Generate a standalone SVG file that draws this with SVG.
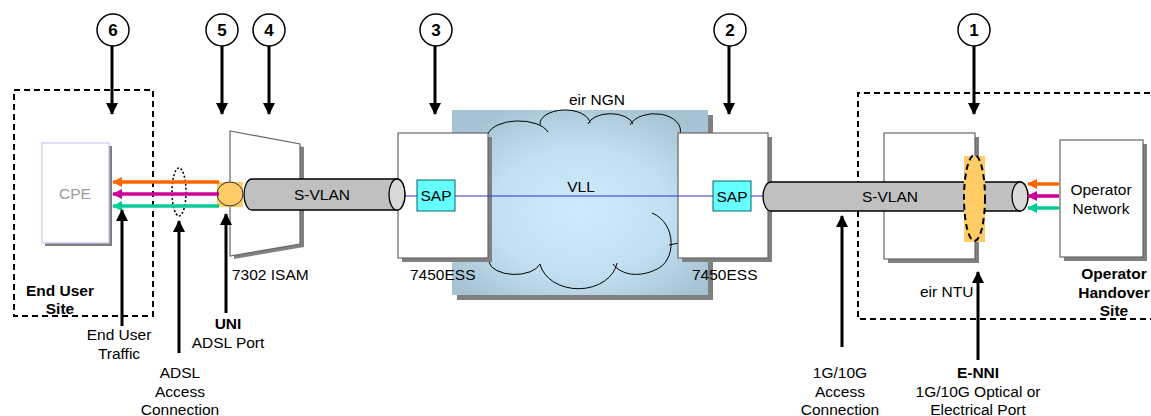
<svg xmlns="http://www.w3.org/2000/svg" width="1151" height="416" viewBox="0 0 1151 416">
<defs>
<marker id="ah" viewBox="0 0 12 12" refX="11" refY="6" markerWidth="12" markerHeight="12" markerUnits="userSpaceOnUse" orient="auto"><path d="M0,0 L12,6 L0,12 z" fill="#000"/></marker>
<marker id="ahO" viewBox="0 0 10 10" refX="9" refY="5" markerWidth="10" markerHeight="10" markerUnits="userSpaceOnUse" orient="auto"><path d="M0,0 L10,5 L0,10 z" fill="#FF6600"/></marker>
<marker id="ahM" viewBox="0 0 10 10" refX="9" refY="5" markerWidth="10" markerHeight="10" markerUnits="userSpaceOnUse" orient="auto"><path d="M0,0 L10,5 L0,10 z" fill="#CC0099"/></marker>
<marker id="ahT" viewBox="0 0 10 10" refX="9" refY="5" markerWidth="10" markerHeight="10" markerUnits="userSpaceOnUse" orient="auto"><path d="M0,0 L10,5 L0,10 z" fill="#00CC99"/></marker>
<radialGradient id="cg" cx="0.5" cy="0.55" r="0.62">
<stop offset="0" stop-color="#CDEBFD"/><stop offset="0.55" stop-color="#C2E0F2"/><stop offset="1" stop-color="#A6C3D3"/>
</radialGradient>
</defs>
<style>
text{font-family:"Liberation Sans",Arial,sans-serif;font-size:15.5px;fill:#000}
.b{font-weight:bold}
.m{text-anchor:middle}
.n{font-size:17px}
.box{fill:#fff;stroke:#666;stroke-width:1.2}
.sh{fill:#808080}
.dash{fill:none;stroke:#000;stroke-width:2;stroke-dasharray:6,4}
.big{stroke:#000;stroke-width:3;fill:none;marker-end:url(#ah)}
.pipe{fill:#C0C0C0;stroke:#000;stroke-width:1.3}
.pend{fill:#D9D9D9;stroke:#000;stroke-width:1.3}
.sap{fill:#66FFFF;stroke:#006666;stroke-width:1}
.num{fill:#fff;stroke:#000;stroke-width:1.5}
.cl{fill:none;stroke:#000;stroke-width:1}
.vll{stroke:#3333CC;stroke-width:1;fill:none}
</style>
<rect width="1151" height="416" fill="#fff"/>

<g id="end-user-site">
<rect x="14" y="90" width="139" height="226" class="dash"/>
<text x="60" y="296" class="b m">End User</text>
<text x="60" y="314" class="b m">Site</text>
</g>

<g id="operator-handover-site">
<path d="M1160,93 L858,93 L858,319 L1160,319" class="dash"/>
<text x="1114" y="279" class="b m">Operator</text>
<text x="1114" y="298" class="b m">Handover</text>
<text x="1114" y="316" class="b m">Site</text>
</g>

<g id="cpe">
<rect x="45" y="146" width="67" height="100" class="sh"/>
<rect x="42" y="143" width="67" height="100" fill="#fff" stroke="#C8C8F0" stroke-width="1.2"/>
<text x="75" y="199" class="m" style="fill:#999">CPE</text>
</g>

<g id="ngn-cloud">
<rect x="457" y="115" width="256" height="185" class="sh"/>
<rect x="452" y="110" width="256" height="185" fill="url(#cg)"/>
<path d="M488,134 A31 16 0 0 1 548,132" class="cl"/>
<path d="M540,125 A25 14 0 0 1 590,123" class="cl"/>
<path d="M588,124 A23 13 0 0 1 633,124" class="cl"/>
<path d="M630,125 A26 17 0 0 1 680,134" class="cl"/>
<path d="M489,262 A26 14 0 0 0 540,264" class="cl"/>
<path d="M540,264 A39 30 0 0 0 617,263" class="cl"/>
<path d="M652,213 C677,223 677,262 655,270 C640,277 622,276 613,264" class="cl"/>
<path d="M669,245 L679,243" class="cl"/>
<text x="597" y="105" class="m">eir NGN</text>
<text x="581" y="192" class="m">VLL</text>
</g>

<g id="isam">
<polygon points="234,134 304,147 304,247 234,259" class="sh"/>
<polygon points="230,131 300,144 300,244 230,256" class="box"/>
<text x="232" y="280">7302 ISAM</text>
</g>

<g id="ess-left">
<rect x="402" y="137" width="90" height="125" class="sh"/>
<rect x="398" y="133" width="90" height="125" class="box"/>
<text x="410" y="280">7450ESS</text>
</g>

<g id="ess-right">
<rect x="682" y="137" width="90" height="125" class="sh"/>
<rect x="678" y="133" width="90" height="125" class="box"/>
<text x="692" y="280">7450ESS</text>
</g>

<g id="ntu">
<rect x="888" y="137" width="91" height="126" class="sh"/>
<rect x="884" y="133" width="91" height="126" class="box"/>
<text x="920" y="297">eir NTU</text>
</g>

<g id="operator-network">
<rect x="1064" y="144" width="83" height="117" class="sh"/>
<rect x="1060" y="140" width="83" height="117" class="box"/>
<text x="1101" y="195" class="m">Operator</text>
<text x="1101" y="214" class="m">Network</text>
</g>

<g id="connectors">
<line x1="397" y1="196" x2="417" y2="196" class="vll"/>
<line x1="455" y1="196" x2="713" y2="196" class="vll"/>
<line x1="751" y1="196" x2="765" y2="196" class="vll"/>

<path d="M252,179 L397,179 A8 15.5 0 0 1 397,210 L252,210 A8 15.5 0 0 1 252,179 z" class="pipe"/>
<ellipse cx="397" cy="194.5" rx="8" ry="15.5" class="pend"/>
<text x="322" y="200" class="m">S-VLAN</text>

<path d="M771,182 L1020,182 A8 14.5 0 0 1 1020,211 L771,211 A8 14.5 0 0 1 771,182 z" class="pipe"/>
<ellipse cx="1020" cy="196.5" rx="8" ry="14.5" class="pend"/>
<text x="890" y="202" class="m">S-VLAN</text>

<rect x="217" y="182" width="26" height="25" fill="#FFCC66"/>
<ellipse cx="230" cy="194" rx="13" ry="12" fill="#FFCC66" stroke="#333" stroke-width="1"/>

<rect x="964" y="156" width="21" height="86" fill="#FFCC66"/>
<ellipse cx="974.5" cy="198" rx="10.5" ry="43" class="dash"/>

<ellipse cx="179" cy="192" rx="7" ry="24" fill="none" stroke="#000" stroke-width="1.5" stroke-dasharray="2,2"/>

<line x1="219" y1="182" x2="113" y2="182" stroke="#FF6600" stroke-width="3.5" marker-end="url(#ahO)"/>
<line x1="219" y1="194" x2="113" y2="194" stroke="#CC0099" stroke-width="3.5" marker-end="url(#ahM)"/>
<line x1="219" y1="206" x2="113" y2="206" stroke="#00CC99" stroke-width="3.5" marker-end="url(#ahT)"/>

<line x1="1059" y1="184" x2="1028" y2="184" stroke="#FF6600" stroke-width="3.5" marker-end="url(#ahO)"/>
<line x1="1059" y1="196" x2="1028" y2="196" stroke="#CC0099" stroke-width="3.5" marker-end="url(#ahM)"/>
<line x1="1059" y1="208" x2="1028" y2="208" stroke="#00CC99" stroke-width="3.5" marker-end="url(#ahT)"/>

<line x1="112" y1="45" x2="112" y2="114" class="big"/>
<line x1="222" y1="45" x2="222" y2="114" class="big"/>
<line x1="269" y1="45" x2="269" y2="114" class="big"/>
<line x1="435" y1="45" x2="435" y2="114" class="big"/>
<line x1="729" y1="45" x2="729" y2="114" class="big"/>
<line x1="974" y1="45" x2="974" y2="114" class="big"/>

<line x1="122" y1="326" x2="122" y2="210" class="big"/>
<line x1="179" y1="353" x2="179" y2="221" class="big"/>
<line x1="226" y1="313" x2="226" y2="214" class="big"/>
<line x1="842" y1="347" x2="842" y2="216" class="big"/>
<line x1="978" y1="360" x2="978" y2="272" class="big"/>
</g>

<g id="sap-left">
<rect x="417" y="180" width="38" height="31" class="sap"/>
<text x="436" y="201" class="m">SAP</text>
</g>
<g id="sap-right">
<rect x="713" y="181" width="38" height="30" class="sap"/>
<text x="732" y="202" class="m">SAP</text>
</g>

<g id="marker-6"><circle cx="113" cy="30" r="16" class="num"/><text x="113" y="36" class="b m n">6</text></g>
<g id="marker-5"><circle cx="222" cy="30" r="16" class="num"/><text x="222" y="36" class="b m n">5</text></g>
<g id="marker-4"><circle cx="269" cy="30" r="16" class="num"/><text x="269" y="36" class="b m n">4</text></g>
<g id="marker-3"><circle cx="436" cy="30" r="16" class="num"/><text x="436" y="36" class="b m n">3</text></g>
<g id="marker-2"><circle cx="730" cy="30" r="16" class="num"/><text x="730" y="36" class="b m n">2</text></g>
<g id="marker-1"><circle cx="974" cy="30" r="16" class="num"/><text x="974" y="36" class="b m n">1</text></g>

<g id="labels">
<text x="119" y="340" class="m">End User</text>
<text x="119" y="359" class="m">Traffic</text>
<text x="180" y="378" class="m">ADSL</text>
<text x="180" y="397" class="m">Access</text>
<text x="180" y="415" class="m">Connection</text>
<text x="228" y="329" class="b m">UNI</text>
<text x="228" y="348" class="m">ADSL Port</text>
<text x="840" y="378" class="m">1G/10G</text>
<text x="840" y="397" class="m">Access</text>
<text x="840" y="415" class="m">Connection</text>
<text x="978" y="378" class="b m">E-NNI</text>
<text x="978" y="397" class="m">1G/10G Optical or</text>
<text x="978" y="415" class="m">Electrical Port</text>
</g>
</svg>
